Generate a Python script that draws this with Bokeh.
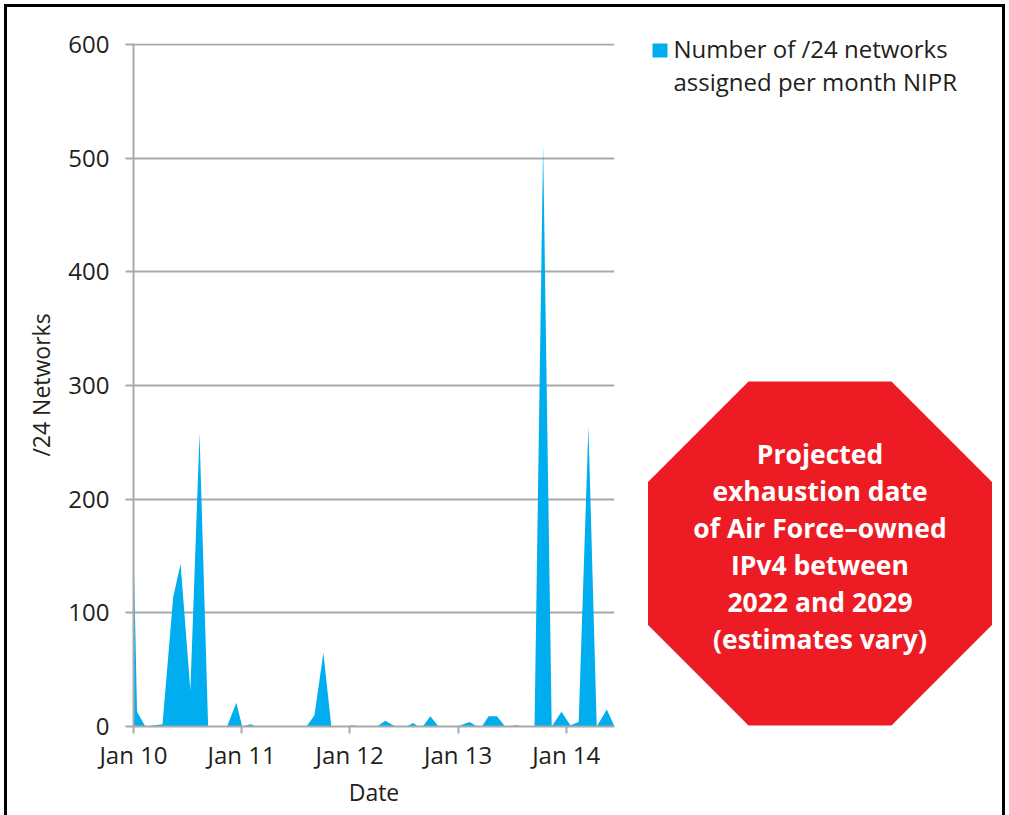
import pandas as pd
from bokeh.plotting import figure
from bokeh.models import Range1d, FixedTicker, DatetimeTickFormatter, ColumnDataSource
from bokeh.layouts import row
from bokeh.embed import file_html
from bokeh.resources import INLINE
from bokeh.core.properties import value

# ---- data ----
dates = ["2010-01-01", "2010-01-13", "2010-02-10", "2010-04-09", "2010-05-15",
         "2010-06-09", "2010-07-12", "2010-08-12", "2010-09-10", "2010-11-13",
         "2010-12-14", "2011-01-03", "2011-01-31", "2011-02-22", "2011-08-08",
         "2011-09-04", "2011-10-04", "2011-10-31", "2011-12-17", "2012-01-10",
         "2012-02-06", "2012-04-02", "2012-04-30", "2012-06-03", "2012-07-10",
         "2012-08-02", "2012-08-20", "2012-09-04", "2012-09-29", "2012-10-27",
         "2012-12-28", "2013-02-09", "2013-03-06", "2013-03-22", "2013-04-14",
         "2013-05-12", "2013-06-09", "2013-07-13", "2013-08-15", "2013-09-16",
         "2013-10-15", "2013-11-13", "2013-12-16", "2014-01-15", "2014-02-12",
         "2014-03-17", "2014-04-14", "2014-05-18", "2014-06-13"]
networks = [160, 13, 0, 2, 114,
            143, 32, 258, 0, 0,
            21, 0, 2, 0, 0,
            10, 65, 0, 0, 1,
            0, 0, 5, 0, 0,
            3, 0, 0, 9, 0,
            0, 4, 0, 0, 9,
            9, 0, 1, 0, 0,
            512, 0, 13, 1, 4,
            264, 0, 15, 0]
y_ticks = [0, 100, 200, 300, 400, 500, 600]
year_ticks = ["2010-01-01", "2011-01-01", "2012-01-01", "2013-01-01", "2014-01-01"]
legend_lines = ["Number of /24 networks", "assigned per month NIPR"]
callout_lines = ["Projected", "exhaustion date", "of Air Force\u2013owned",
                 "IPv4 between", "2022 and 2029", "(estimates vary)"]

FONT = "Open Sans"
TEXT = "#231f20"
GRID = "#a7a9ac"
BLUE = "#00aeef"
RED = "#ed1c24"

TOP, FH, BOT = 36, 683, 81
H = TOP + FH + BOT

x = pd.to_datetime(dates)
src = ColumnDataSource(dict(x=x, y=networks))

p = figure(frame_width=481, frame_height=FH, x_axis_type="datetime",
           x_range=Range1d(pd.Timestamp("2010-01-01"), pd.Timestamp(dates[-1])),
           y_range=Range1d(0, 601), output_backend="svg", toolbar_location=None,
           min_border_left=126, min_border_right=14, min_border_top=TOP,
           min_border_bottom=BOT)
p.frame_align = False
p.outline_line_color = None
p.background_fill_color = "white"
p.border_fill_color = "white"

p.varea(x="x", y1=0, y2="y", source=src, fill_color=BLUE)

p.xgrid.grid_line_color = None
p.ygrid.grid_line_color = GRID
p.ygrid.grid_line_width = 2

for ax in (p.xaxis[0], p.yaxis[0]):
    ax.axis_line_color = GRID
    ax.axis_line_width = 2
    ax.major_tick_line_color = GRID
    ax.major_tick_line_width = 2
    ax.major_tick_in = 0
    ax.minor_tick_line_color = None
    ax.major_label_text_font = FONT
    ax.major_label_text_font_size = "24px"
    ax.major_label_text_color = TEXT
    ax.axis_label_text_font = FONT
    ax.axis_label_text_font_size = "23px"
    ax.axis_label_text_font_style = "normal"
    ax.axis_label_text_color = TEXT

p.yaxis.ticker = FixedTicker(ticks=y_ticks)
p.yaxis.major_tick_out = 8
p.yaxis.major_label_standoff = 16
p.yaxis.axis_label = "/24 Networks"
p.yaxis.axis_label_standoff = 8

p.xaxis.ticker = FixedTicker(ticks=[pd.Timestamp(t).value / 1e6 for t in year_ticks])
fmt = "%b %y"
p.xaxis.formatter = DatetimeTickFormatter(years=fmt, months=fmt, days=fmt, hours=fmt,
                                          hourmin=fmt, minutes=fmt, minsec=fmt,
                                          seconds=fmt, milliseconds=fmt, microseconds=fmt)
p.xaxis.major_tick_out = 7
p.xaxis.major_label_standoff = 4
p.xaxis.axis_label = "Date"
p.xaxis.axis_label_standoff = 2

# ---- side panel: legend and callout (coordinates = figure pixels) ----
SW = 374
s = figure(frame_width=SW, frame_height=H, x_range=Range1d(0, SW),
           y_range=Range1d(H, 0),
           x_axis_location=None, y_axis_location=None, output_backend="svg",
           toolbar_location=None, min_border=0)
s.frame_align = False
s.outline_line_color = None
s.grid.visible = False
s.border_fill_color = "white"
s.background_fill_color = "white"

s.rect(x=[31.5], y=[43], width=15, height=14, fill_color=BLUE, line_color=None)
s.text(x=[45, 45], y=[40.5, 74], text=legend_lines, text_font=value(FONT),
       text_font_size="24px", text_color=TEXT, text_align="left",
       text_baseline="alphabetic")

cx, cy, hw, hs = 191.5, 546, 172, 71.5
oct_x = [cx - hs, cx + hs, cx + hw, cx + hw, cx + hs, cx - hs, cx - hw, cx - hw]
oct_y = [cy - hw, cy - hw, cy - hs, cy + hs, cy + hw, cy + hw, cy + hs, cy - hs]
s.patch(oct_x, oct_y, fill_color=RED, line_color=None)

n = len(callout_lines)
ly = [cy - 7.5 + (i - (n - 1) / 2) * 37.0 for i in range(n)]
s.text(x=[cx] * n, y=ly, text=callout_lines, text_font=value(FONT),
       text_font_style="bold", text_font_size="26.5px", text_color="white",
       text_align="center", text_baseline="middle")

root = row(p, s)
root.styles = {"margin-left": "4px", "margin-top": "4px", "padding-bottom": "8px",
               "border-left": "3px solid black", "border-top": "3px solid black",
               "border-right": "3px solid black"}

open("out.html", "w").write(file_html(root, INLINE))
